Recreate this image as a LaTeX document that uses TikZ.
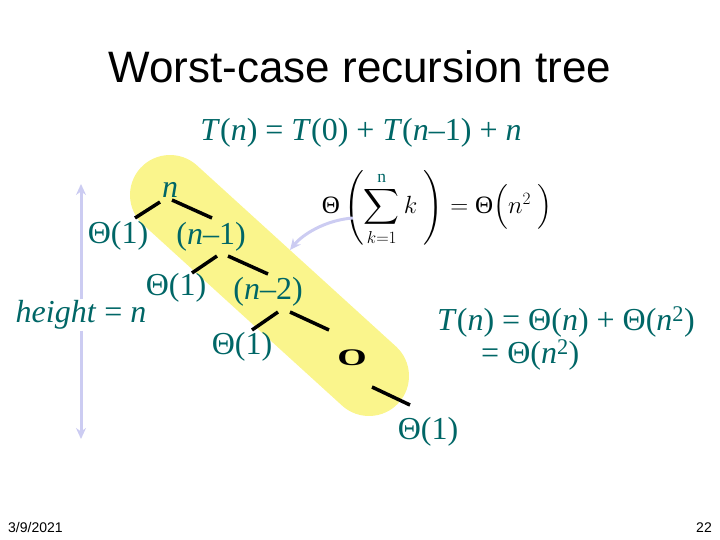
\documentclass[tikz,border=0pt]{standalone}
\usepackage{amsmath}
\usepackage{fontspec}
\setmainfont{Liberation Serif}
\newfontfamily\slidesans{Liberation Sans}
\usepackage{graphicx}
\usetikzlibrary{arrows.meta,calc}
\definecolor{rtteal}{RGB}{0,102,102}
\definecolor{rtlav}{RGB}{204,204,242}
\definecolor{rtyellow}{RGB}{250,245,140}

\tikzset{
  lbl/.style={font=\fontsize{32}{38}\selectfont, text=rtteal, inner sep=1pt},
  treeedge/.style={line width=3.5pt, black},
  lavarrow/.style={rtlav, line width=3pt, -{Stealth[length=11pt,width=10pt]}},
}

\begin{document}
\begin{tikzpicture}[x=1pt,y=-1pt]
  \useasboundingbox (0,0) rectangle (720,540);
  % highlighted path down the tree
  \draw[rtyellow, line width=80pt, line cap=round] (170,195) -- (369,376);

  % title and recurrence
  \node (title) [font=\slidesans\fontsize{44}{50}\selectfont] at (360,67) {Worst-case recursion tree};
  \node (rec) [lbl] at (361,133) {\textit{T}(\textit{n}) = \textit{T}(0) + \textit{T}(\textit{n}–1) + \textit{n}};

  % tree labels
  \node (rn)  [lbl] at (170,190) {\textit{n}};
  \node (th1) [lbl] at (118,236) {Θ(1)};
  \node (rn1) [lbl] at (211,237) {(\textit{n}–1)};
  \node (th2) [lbl] at (176,288) {Θ(1)};
  \node (rn2) [lbl] at (268,292) {(\textit{n}–2)};
  \node (th3) [lbl] at (242,347) {Θ(1)};
  \node (dots) [font=\fontsize{28}{30}\selectfont\bfseries, inner sep=1pt] at (352,358) {\scalebox{1.35}[0.85]{O}};
  \node (th4) [lbl] at (428,432) {Θ(1)};

  % tree edges
  \draw[treeedge] ($(rn)+(-10,12)$) -- ($(th1)+(17,-18)$);
  \draw[treeedge] ($(rn)+(2,10)$) -- ($(rn1)+(1,-19)$);
  \draw[treeedge] ($(rn1)+(6,19)$) -- ($(th2)+(16,-15)$);
  \draw[treeedge] ($(rn1)+(17,19)$) -- ($(rn2)+(0,-18)$);
  \draw[treeedge] ($(rn2)+(10,20)$) -- ($(th3)+(10,-17)$);
  \draw[treeedge] ($(rn2)+(22,20)$) -- ($(dots)+(-23,-28)$);
  \draw[treeedge] ($(dots)+(20,29)$) -- ($(th4)+(-18,-27)$);

  % height of the tree
  \node (hgt) [lbl] at (81,315) {\textit{height} = \textit{n}};
  \coordinate (htop) at (81,184);
  \coordinate (hbot) at (81,439);
  \draw[lavarrow] (hgt) -- (htop);
  \draw[lavarrow] (hgt) -- (hbot);

  % cost along the long path
  \node (sumf) [font=\fontsize{25}{30}\selectfont, inner sep=0pt] at (437,208)
    {$\text{Θ}\left(\displaystyle\sum_{k=1}^{\text{\textcolor{rtteal}{n}}} k\ \right) = \text{Θ}\Bigl(n^{2}\ \Bigr)$};
  \coordinate (sumtip) at (290,250);
  \draw[lavarrow] ($(sumf)+(-84,10)$) .. controls (325,220) and (302,235) .. (sumtip);

  % result
  \node (res1) [lbl, anchor=west] at (436,322) {\textit{T}(\textit{n}) = Θ(\textit{n}) + Θ(\textit{n}\textsuperscript{2})};
  \node (res2) [lbl, anchor=west] at (480,355) {= Θ(\textit{n}\textsuperscript{2})};

  % footer
  \node (date) [font=\slidesans\fontsize{14}{16}\selectfont, anchor=base west, inner sep=0pt] at (8,532) {3/9/2021};
  \node (page) [font=\slidesans\fontsize{14}{16}\selectfont, anchor=base east, inner sep=0pt] at (712,532) {22};
\end{tikzpicture}
\end{document}
